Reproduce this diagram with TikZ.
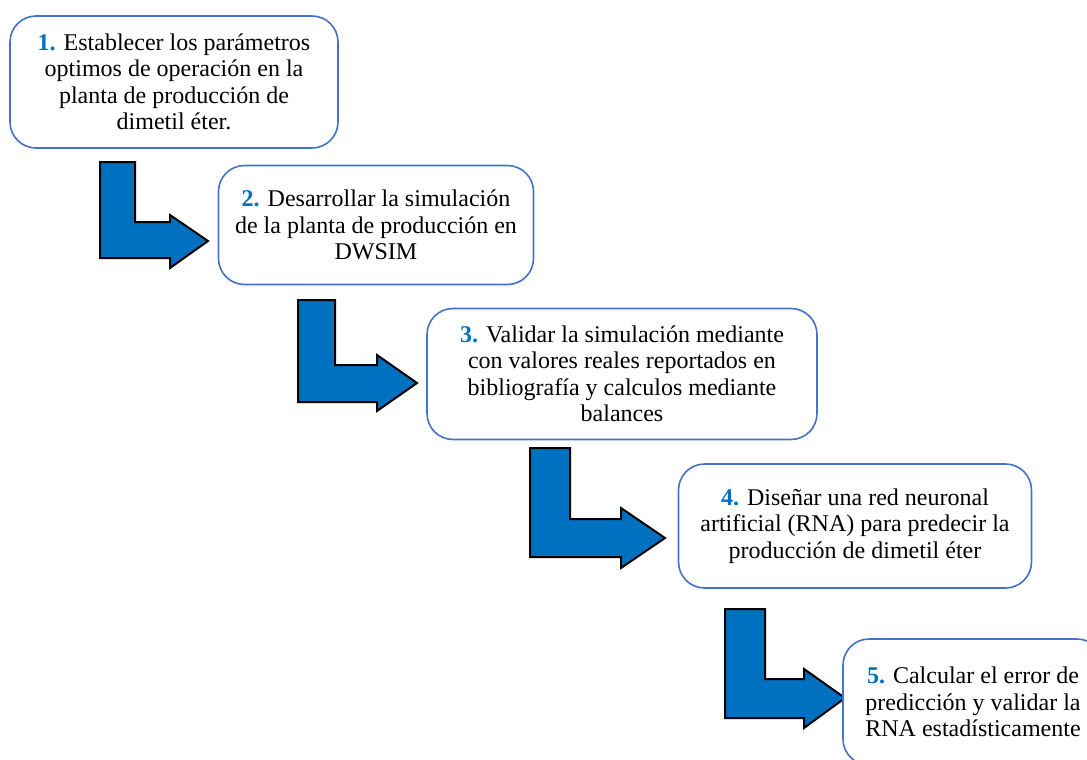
\documentclass[tikz,border=0pt]{standalone}
\usepackage{fontspec}
\setmainfont{Liberation Serif}
\definecolor{numblue}{HTML}{0070C0}
\definecolor{boxblue}{HTML}{4472C4}
\definecolor{arrowfill}{HTML}{0070C0}
\newcommand{\stepnum}[1]{{\bfseries\color{numblue}#1}}
\begin{document}
\begin{tikzpicture}[x=1pt,y=-1pt,
  stepbox/.style={draw=boxblue, line width=1.6pt, fill=white, rounded corners=26pt,
    align=center, inner sep=0pt, font=\fontsize{24}{26.5}\selectfont},
  bentarrow/.style={draw=black, line width=2pt, fill=arrowfill, line join=miter}]
\useasboundingbox (0,0) rectangle (1087,760);
% bent arrows
\draw[bentarrow] (100,162) -- (135,162) -- (135,222) -- (170,222) -- (170,215) -- (208,241) -- (170,268) -- (170,258) -- (100,258) -- cycle;
\draw[bentarrow] (298,300) -- (335,300) -- (335,365) -- (377,365) -- (377,355) -- (417,383) -- (377,411) -- (377,402) -- (298,402) -- cycle;
\draw[bentarrow] (530,448) -- (570,448) -- (570,519) -- (621,519) -- (621,508) -- (665,538) -- (621,568) -- (621,557) -- (530,557) -- cycle;
\draw[bentarrow] (725,609) -- (765,609) -- (765,679) -- (804,679) -- (804,669) -- (845,698) -- (804,728) -- (804,718) -- (725,718) -- cycle;
% boxes
\node[stepbox, minimum width=328pt, minimum height=132pt] (s1) at (174,82)
  {\stepnum{1.} Establecer los parámetros\\optimos de operación en la\\planta de producción de\\dimetil éter.};
\node[stepbox, minimum width=315pt, minimum height=119pt] (s2) at (376,225)
  {\stepnum{2.} Desarrollar la simulación\\de la planta de producción en\\DWSIM};
\node[stepbox, minimum width=390pt, minimum height=131pt] (s3) at (622,374)
  {\stepnum{3.} Validar la simulación mediante\\con valores reales reportados en\\bibliografía y calculos mediante\\balances};
\node[stepbox, minimum width=353pt, minimum height=124pt] (s4) at (855,526)
  {\stepnum{4.} Diseñar una red neuronal\\artificial (RNA) para predecir la\\producción de dimetil éter};
\node[stepbox, minimum width=260pt, minimum height=126pt] (s5) at (973,702)
  {\stepnum{5.} Calcular el error de\\predicción y validar la\\RNA estadísticamente};
\end{tikzpicture}
\end{document}
